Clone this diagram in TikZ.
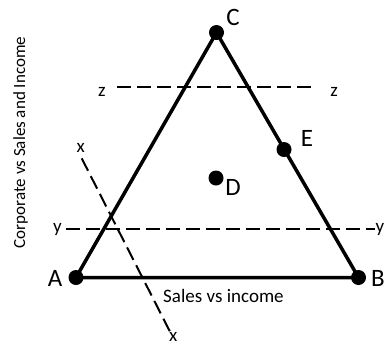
\documentclass[tikz,border=0pt]{standalone}
\usepackage{fontspec}
\setmainfont{Carlito}
\usetikzlibrary{positioning}

\begin{document}
\begin{tikzpicture}[x=1pt, y=-1pt,
    vertexdot/.style={circle, fill=black, inner sep=0pt, minimum size=15pt},
    bigletter/.style={inner sep=0pt, anchor=base, font=\fontsize{25}{30}\selectfont},
    smalltext/.style={inner sep=0pt, anchor=base, font=\fontsize{19}{23}\selectfont},
    sideline/.style={line width=3.5pt},
    cutline/.style={line width=2pt, dash pattern=on 14pt off 6pt}]
  \useasboundingbox (0,0) rectangle (385,346);

  % Corners and points
  \node[vertexdot] (A) at (76,277.5) {};
  \node[vertexdot] (B) at (358.5,277.5) {};
  \node[vertexdot] (C) at (216.5,32.5) {};
  \node[vertexdot] (D) at (216,178) {};

  % Triangle
  \draw[sideline] (A.center) -- (B.center) -- (C.center) -- cycle;
  \node[vertexdot] (E) at (284,149.5) {};

  % Point labels
  \node[bigletter] (labA) at (55,286) {A};
  \node[bigletter] (labB) at (378,286) {B};
  \node[bigletter] (labC) at (233,25) {C};
  \node[bigletter] (labD) at (233,195) {D};
  \node[bigletter] (labE) at (307,146) {E};

  % Cutting lines
  \coordinate (z1) at (117,87.3);
  \coordinate (z2) at (317,87.3);
  \coordinate (y1) at (66,228.7);
  \coordinate (y2) at (375,228.7);
  \coordinate (x1) at (81.7,158.3);
  \coordinate (x2) at (170,331.7);
  \draw[cutline] (z1) -- (z2);
  \draw[cutline] (y1) -- (y2);
  \draw[cutline] (x1) -- (x2);
  \node[smalltext] (labz1) at (102,96) {z};
  \node[smalltext] (labz2) at (334,96) {z};
  \node[smalltext] (laby1) at (57.5,232) {y};
  \node[smalltext] (laby2) at (380,232) {y};
  \node[smalltext] (labx1) at (80.7,152.5) {x};
  \node[smalltext] (labx2) at (173.3,341) {x};

  % Axis texts
  \node[smalltext, anchor=base west] (sales) at (163,302.5) {Sales vs income};
  \node[inner sep=0pt, anchor=base, rotate=90, font=\fontsize{17}{20}\selectfont]
    (corporate) at (25,142.5) {Corporate vs Sales and Income};
\end{tikzpicture}
\end{document}
